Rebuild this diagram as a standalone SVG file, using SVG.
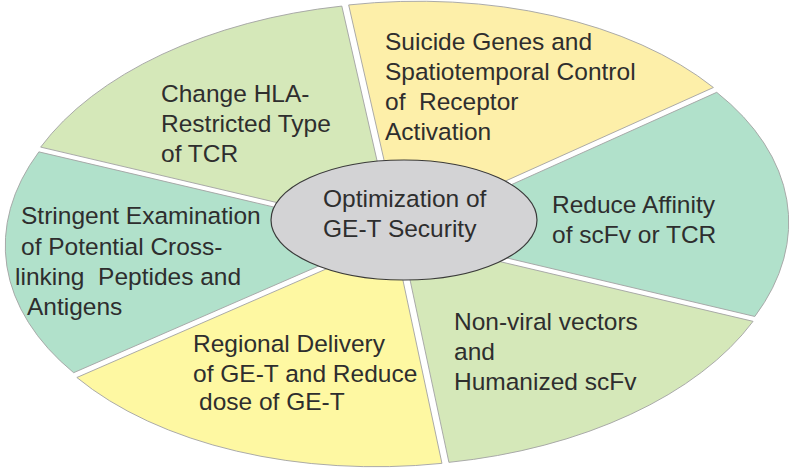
<svg xmlns="http://www.w3.org/2000/svg" width="795" height="471" viewBox="0 0 795 471">
  <style>
    .w { stroke: #a3a3a3; stroke-width: 0.9; }
    .g { fill: #d5e8b9; }
    .y1 { fill: #fdefa9; }
    .t { fill: #b1e1cb; }
    .y2 { fill: #fef8a2; }
    text { font-family: "Liberation Sans", Arial, sans-serif; font-size: 24.5px; fill: #2e2e2e; }
  </style>
  <rect width="795" height="471" fill="#ffffff"/>
  <g id="wedges" transform="translate(397,234) rotate(-2.5)">
    <g id="wedge-hla" transform="translate(-4,-4.4)">
      <path class="w g" d="M0 0 L-348.2 -97.95 A386 227 0 0 1 -41.2 -225.7 Z"/>
    </g>
    <g id="wedge-suicide" transform="translate(2.9,-5.25)">
      <path class="w y1" d="M0 0 L-41.2 -225.7 A386 227 0 0 1 319.6 -127.3 Z"/>
    </g>
    <g id="wedge-affinity" transform="translate(6,-0.3)">
      <path class="w t" d="M0 0 L319.6 -127.3 A386 227 0 0 1 347.9 98.3 Z"/>
    </g>
    <g id="wedge-nonviral" transform="translate(4,4.5)">
      <path class="w g" d="M0 0 L347.9 98.3 A386 227 0 0 1 37.9 225.9 Z"/>
    </g>
    <g id="wedge-regional" transform="translate(-3,5.2)">
      <path class="w y2" d="M0 0 L37.9 225.9 A386 227 0 0 1 -323.1 124.2 Z"/>
    </g>
    <g id="wedge-stringent" transform="translate(-6,0.28)">
      <path class="w t" d="M0 0 L-323.1 124.2 A386 227 0 0 1 -348.2 -97.95 Z"/>
    </g>
  </g>
  <g id="labels">
    <text x="161" y="102">Change HLA-</text>
    <text x="161" y="132">Restricted Type</text>
    <text x="161" y="162">of TCR</text>

    <text x="385" y="50">Suicide Genes and</text>
    <text x="385" y="80">Spatiotemporal Control</text>
    <text x="385" y="110" xml:space="preserve">of  Receptor</text>
    <text x="385" y="140">Activation</text>

    <text x="552" y="213">Reduce Affinity</text>
    <text x="552" y="243">of scFv or TCR</text>

    <text x="454" y="330">Non-viral vectors</text>
    <text x="454" y="360">and</text>
    <text x="454" y="390">Humanized scFv</text>

    <text x="193" y="352">Regional Delivery</text>
    <text x="193" y="382">of GE-T and Reduce</text>
    <text x="199" y="410">dose of GE-T</text>

    <text x="21" y="224">Stringent Examination</text>
    <text x="21" y="255">of Potential Cross-</text>
    <text x="15" y="285" xml:space="preserve">linking  Peptides and</text>
    <text x="27" y="315">Antigens</text>
  </g>
  <g id="center">
    <ellipse cx="404" cy="220" rx="133" ry="60" fill="#d3d3d5" stroke="#3a3a3a" stroke-width="1.2"/>
    <text x="323" y="207">Optimization of</text>
    <text x="323" y="237">GE-T Security</text>
  </g>
</svg>
